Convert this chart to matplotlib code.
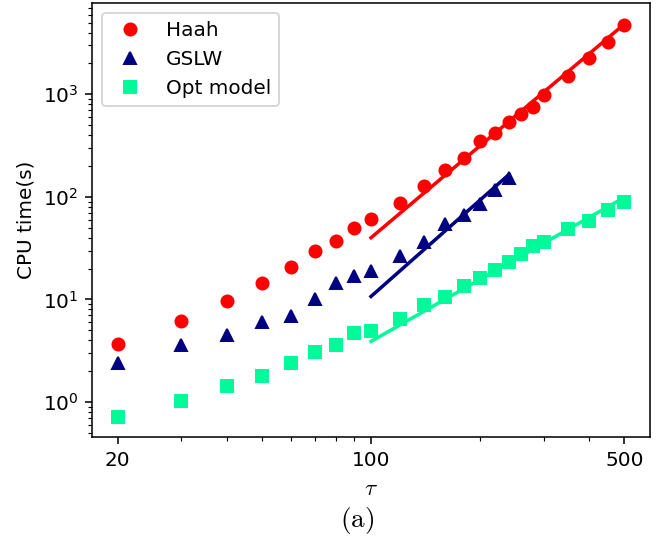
import matplotlib
matplotlib.use("Agg")
import matplotlib.pyplot as plt
from matplotlib.ticker import NullFormatter, FixedLocator, FixedFormatter

plt.rcParams["font.size"] = 10.3

# ---- data ----
tau = [20, 30, 40, 50, 60, 70, 80, 90, 100, 120, 140, 160, 180, 200,
       220, 240, 260, 280, 300, 350, 400, 450, 500]
haah = [3.7, 6.2, 9.6, 14.6, 20.5, 29.4, 37, 50, 61, 88, 127, 182, 239, 350,
        420, 540, 640, 760, 980, 1520, 2270, 3230, 4730]
tau_gslw = [20, 30, 40, 50, 60, 70, 80, 90, 100, 120, 140, 160, 180, 200, 220, 240]
gslw = [2.42, 3.63, 4.54, 6.0, 6.9, 10.2, 14.4, 16.8, 18.8, 26.7, 36.6, 54,
        67, 85, 116, 154]
opt = [0.71, 1.02, 1.42, 1.78, 2.38, 3.07, 3.62, 4.7, 4.92, 6.44, 8.8, 10.5,
       13.5, 16.2, 19.5, 23.1, 27.9, 33.1, 36.2, 48.5, 58.1, 74, 89]

fit_haah_x = [100, 500]
fit_haah_y = [40, 4850]
fit_gslw_x = [100, 240]
fit_gslw_y = [10.7, 165]
fit_opt_x = [100, 500]
fit_opt_y = [3.9, 99]

xticks = [20, 100, 500]
xticklabels = ["20", "100", "500"]

red = "#ff0000"
navy = "#000080"
green = "#00fa9a"

fig = plt.figure(figsize=(662 / 140, 539 / 140), dpi=140)
ax = fig.add_axes([92 / 662, 1 - 437 / 539, (650 - 92) / 662, (437 - 3) / 539])

ax.plot(tau, haah, "o", color=red, ms=6.2, label="Haah")
ax.plot(tau_gslw, gslw, "^", color=navy, ms=6.2, label="GSLW")
ax.plot(tau, opt, "s", color=green, ms=6.2, label="Opt model")

ax.plot(fit_haah_x, fit_haah_y, "-", color=red, lw=1.8)
ax.plot(fit_gslw_x, fit_gslw_y, "-", color=navy, lw=1.8)
ax.plot(fit_opt_x, fit_opt_y, "-", color=green, lw=1.8)

ax.set_xscale("log")
ax.set_yscale("log")
ax.set_xlim(17.0, 588)
ax.set_ylim(0.456, 7770)

ax.xaxis.set_major_locator(FixedLocator(xticks))
ax.xaxis.set_major_formatter(FixedFormatter(xticklabels))
ax.xaxis.set_minor_formatter(NullFormatter())

ax.set_ylabel("CPU time(s)")
ax.set_xlabel(r"$\tau$", math_fontfamily="cm", fontsize=12)
ax.legend(loc="upper left")

fig.text(357 / 662, 1 - 521 / 539, r"$\mathrm{(a)}$", math_fontfamily="cm",
         fontsize=14, ha="center", va="center")

fig.savefig("out.png", dpi=140)
